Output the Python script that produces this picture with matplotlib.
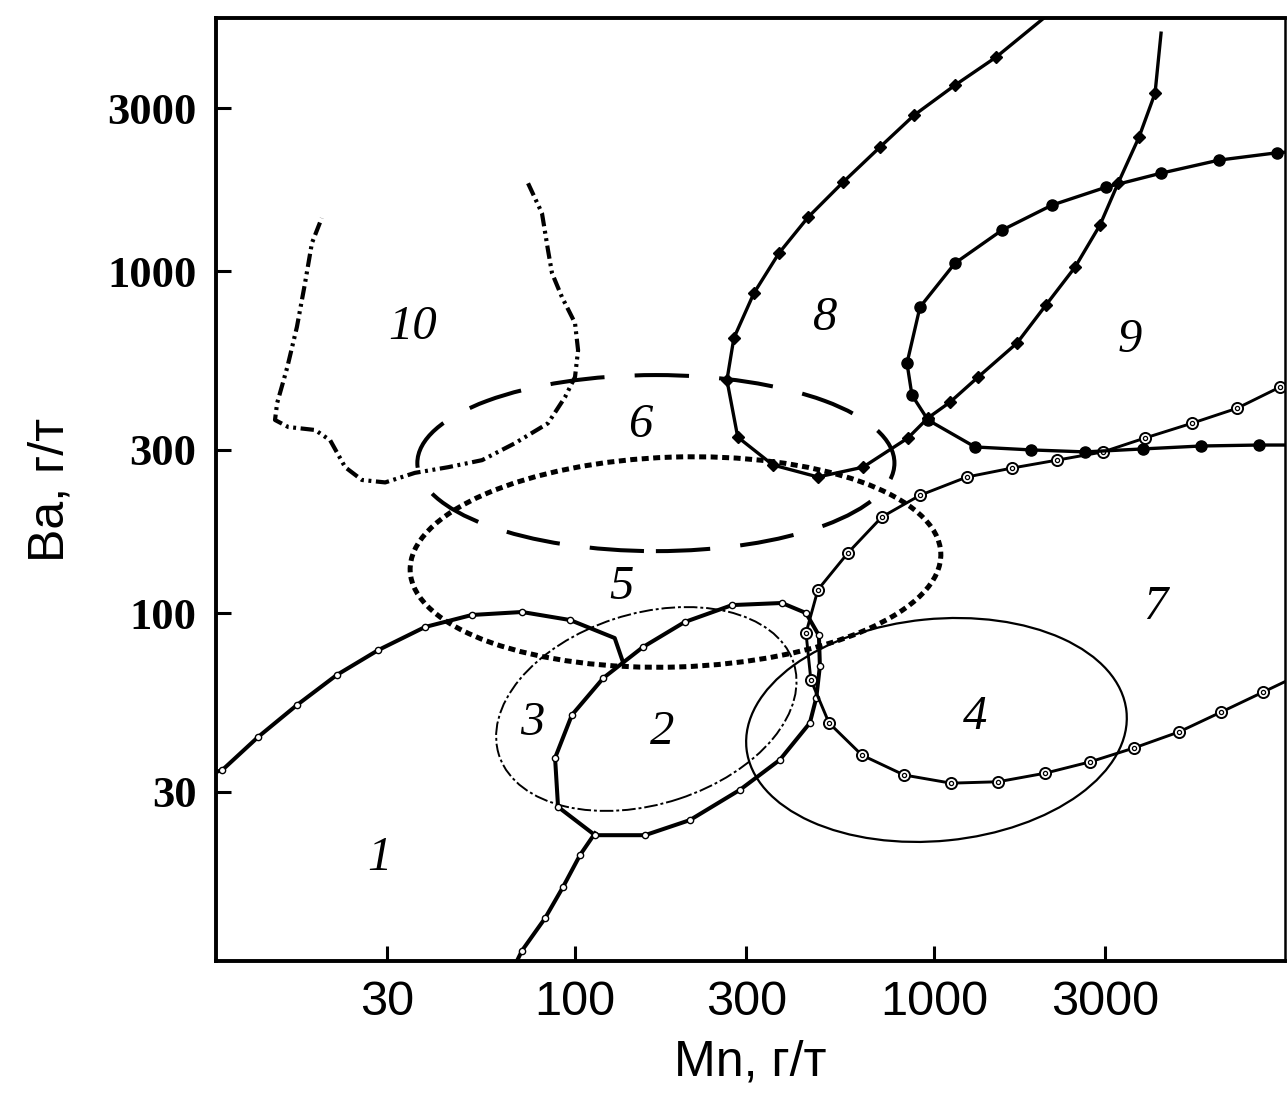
import matplotlib
matplotlib.use("Agg")
import matplotlib.pyplot as plt
import numpy as np
from matplotlib import font_manager
from matplotlib.patches import Ellipse
from matplotlib.ticker import FixedLocator, NullLocator


OUTPUT_PATH = "out.png"

MN_LIM = (10, 9500)
BA_LIM = (9.6, 5500)

X_TICKS = [30, 100, 300, 1000, 3000]
X_TICK_LABELS = ["30", "100", "300", "1000", "3000"]
Y_TICKS = [30, 100, 300, 1000, 3000]
Y_TICK_LABELS = ["30", "100", "300", "1000", "3000"]

# field 1, upper boundary (small open circles)
CURVE1_MN = [10, 10.4, 13.1, 16.8, 21.7, 28.3, 38.2, 51.6, 71.2, 96.9, 129, 136]
CURVE1_BA = [34.3, 34.7, 43.4, 53.8, 65.9, 77.9, 91.0, 98.7, 100.7, 95.4, 84.5, 71.9]

# field 1, lower boundary going down to the Mn axis
CURVE1B_MN = [68.9, 71.2, 82.5, 92.6, 103.3, 113.7]
CURVE1B_BA = [9.6, 10.3, 12.8, 15.8, 19.6, 22.7]

# field 2, closed loop with small open circles
FIELD2_MN = [120, 154.6, 202, 274, 377, 440, 478, 481, 470, 451, 372, 288, 209,
             156.7, 113.7, 89.7, 88, 98, 120]
FIELD2_BA = [64.6, 79.5, 94.1, 105.5, 107, 100, 86, 70, 56.5, 47.7, 37.2, 30.4,
             24.8, 22.4, 22.4, 27.1, 37.7, 50.3, 64.6]

# field 7 boundary (double circles)
CURVE7_MN = [9500, 9200, 6980, 5230, 3870, 2958, 2200, 1650, 1236, 914, 716,
             576, 475, 440, 454, 510, 630, 825, 1115, 1508, 2038, 2721, 3606,
             4812, 6300, 8250, 9500]
CURVE7_BA = [465, 458, 397, 359, 325, 296, 280, 265.5, 250, 221, 191, 150, 117,
             87.4, 63.7, 47.7, 38.4, 33.6, 31.8, 32.1, 34.0, 36.7, 40.3, 44.9,
             51.3, 58.7, 63]

# field 8 boundary (filled diamonds)
CURVE8_MN = [2024, 1489, 1144, 880, 707, 558, 446, 370, 315, 277, 265, 284, 356,
             475, 634, 846, 962, 1109, 1327, 1703, 2051, 2471, 2899, 3257, 3724,
             4128, 4290]
CURVE8_BA = [5500, 4225, 3498, 2858, 2305, 1820, 1438, 1129, 862, 637, 480, 327,
             271, 250, 267, 325, 372, 414, 490, 616, 796, 1027, 1363, 1808, 2465,
             3315, 4966]

# field 9 boundary (filled circles)
CURVE9_MN = [9500, 9020, 6220, 4290, 3015, 2132, 1547, 1144, 914, 841, 868, 962,
             1301, 1862, 2634, 3820, 5545, 8040, 9500]
CURVE9_BA = [2228, 2219, 2112, 1934, 1760, 1560, 1318, 1055, 785, 538, 434, 367,
             306, 300, 296, 302, 308, 310, 310]

# field 10 boundary (dash-dot-dot)
CURVE10_MN = [74.0, 80.9, 84.1, 86.3, 92, 100, 102, 100, 93.8, 84.1, 68.1, 55.1,
              44.3, 35.8, 29.6, 25.5, 22.9, 20.8, 18.9, 15.9, 14.6, 14.8, 15.8,
              16.8, 17.7, 18.5, 19.7]
CURVE10_BA = [1807, 1478, 1152, 986, 839, 705, 587, 490, 428, 359, 314, 280,
              267, 257, 241, 245, 267, 320, 343, 350, 367, 411, 524, 686, 922,
              1208, 1429]

# ellipses: centre Mn, centre Ba, width and height in decades, angle
ELLIPSE_NAMES = ["3", "4", "5", "6"]
ELLIPSE_MN = [158, 1016, 190.5, 168]
ELLIPSE_BA = [52.4, 45.5, 141, 274.5]
ELLIPSE_W = [0.864, 1.064, 1.479, 1.329]
ELLIPSE_H = [0.556, 0.649, 0.614, 0.515]
ELLIPSE_ANGLE = [19, 6, 2, 0]

FIELD_LABELS = ["1", "2", "3", "4", "5", "6", "7", "8", "9", "10"]
FIELD_LABEL_MN = [28.6, 175, 75.9, 1301, 135, 152, 4128, 497, 3516, 35.4]
FIELD_LABEL_BA = [19.2, 44.9, 47.7, 49.7, 119, 355, 104, 729, 629, 686]


def pick_font(name, fallback):
    names = {f.name for f in font_manager.fontManager.ttflist}
    return name if name in names else fallback


def draw_ellipses(ax):
    styles = {
        "3": dict(lw=1.4, ls=(0, (7, 1.5, 1.5, 1.5))),
        "4": dict(lw=1.6, ls="-"),
        "5": dict(lw=3.6, ls=(0, (1.4, 0.9))),
        "6": dict(lw=2.9, ls=(0, (13.5, 7.5))),
    }
    # ellipses are defined in log10 space, so skip the scale part of transData
    log_to_display = ax.transLimits + ax.transAxes
    for name, mn, ba, w, h, ang in zip(ELLIPSE_NAMES, ELLIPSE_MN, ELLIPSE_BA,
                                       ELLIPSE_W, ELLIPSE_H, ELLIPSE_ANGLE):
        st = styles[name]
        patch = Ellipse((np.log10(mn), np.log10(ba)), w, h, angle=ang,
                        fill=False, edgecolor="black", linewidth=st["lw"],
                        linestyle=st["ls"], transform=log_to_display)
        ax.add_patch(patch)


def draw_curves(ax):
    small_open = dict(marker="o", markersize=4.5, markerfacecolor="white",
                      markeredgecolor="black", markeredgewidth=1.0)

    ax.plot(CURVE1_MN, CURVE1_BA, color="black", lw=2.9,
            solid_joinstyle="round", markevery=slice(1, 10), **small_open)
    ax.plot(CURVE1B_MN, CURVE1B_BA, color="black", lw=2.9,
            markevery=slice(1, 5), **small_open)
    ax.plot(FIELD2_MN, FIELD2_BA, color="black", lw=2.9,
            solid_joinstyle="round", markevery=slice(0, -1), **small_open)

    ax.plot(CURVE7_MN, CURVE7_BA, color="black", lw=2.1, marker="o",
            markersize=8, markerfacecolor="white", markeredgecolor="black",
            markeredgewidth=1.4, markevery=slice(1, -1))
    ax.plot(CURVE7_MN[1:-1], CURVE7_BA[1:-1], linestyle="none", marker="o",
            markersize=3, markerfacecolor="none", markeredgecolor="black",
            markeredgewidth=0.9)

    ax.plot(CURVE8_MN, CURVE8_BA, color="black", lw=2.4, marker="D",
            markersize=6, markerfacecolor="black", markevery=slice(1, -1))
    ax.plot(CURVE9_MN, CURVE9_BA, color="black", lw=2.4, marker="o",
            markersize=8, markerfacecolor="black", markevery=slice(1, -1))

    ax.plot(CURVE10_MN, CURVE10_BA, color="black", lw=3.0,
            linestyle=(0, (3.2, 1.1, 0.7, 1.1, 0.7, 1.1)))


def main():
    narrow = pick_font("Liberation Sans Narrow", "Liberation Sans")

    fig = plt.figure(figsize=(12.87, 11.07), dpi=100)
    ax = fig.add_axes([216 / 1287, (1107 - 961) / 1107,
                       (1285 - 216) / 1287, (961 - 18) / 1107])

    ax.set_xscale("log")
    ax.set_yscale("log")
    ax.set_xlim(*MN_LIM)
    ax.set_ylim(*BA_LIM)

    draw_ellipses(ax)
    draw_curves(ax)

    for label, mn, ba in zip(FIELD_LABELS, FIELD_LABEL_MN, FIELD_LABEL_BA):
        ax.text(mn, ba, label, fontsize=35, fontstyle="italic",
                family="Liberation Serif", ha="center", va="center")

    ax.xaxis.set_major_locator(FixedLocator(X_TICKS))
    ax.yaxis.set_major_locator(FixedLocator(Y_TICKS))
    ax.xaxis.set_minor_locator(NullLocator())
    ax.yaxis.set_minor_locator(NullLocator())
    ax.set_xticklabels(X_TICK_LABELS, family=narrow, fontsize=35)
    ax.set_yticklabels(Y_TICK_LABELS, family="Liberation Serif",
                       fontweight="bold", fontsize=32)

    ax.tick_params(axis="both", direction="in", length=11, width=2.2,
                   top=False, right=False)
    ax.tick_params(axis="x", pad=14)
    ax.tick_params(axis="y", pad=14)

    for side in ["left", "bottom", "top"]:
        ax.spines[side].set_linewidth(2.8)
    ax.spines["right"].set_linewidth(1.8)

    ax.set_xlabel("Mn, г/т", family="Liberation Sans", fontsize=36, labelpad=10)
    ax.set_ylabel("Ba, г/т", family="Liberation Sans", fontsize=36, labelpad=24)

    fig.savefig(OUTPUT_PATH, dpi=100)
    plt.close(fig)


if __name__ == "__main__":
    main()
